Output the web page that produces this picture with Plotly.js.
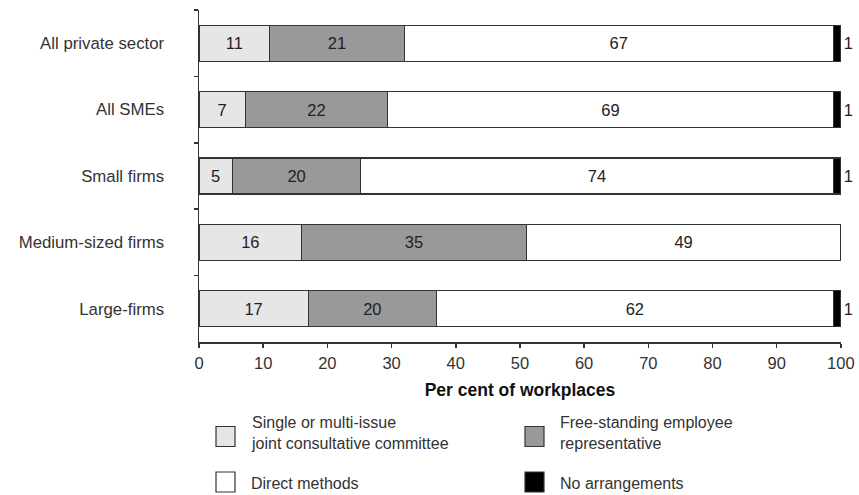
<!DOCTYPE html>
<html>
<head>
<meta charset="utf-8">
<script src="https://cdn.plot.ly/plotly-3.0.1.min.js"></script>
<style>html,body{margin:0;padding:0;background:#fff;}#chart{width:859px;height:495px;}</style>
</head>
<body>
<div id="chart"></div>
<script>
const categories = ["All private sector", "All SMEs", "Small firms", "Medium-sized firms", "Large-firms"];
const jointCommittee = [11, 7.2, 5.2, 16, 17];
const freeStanding = [21, 22.2, 20, 35, 20];
const directMethods = [66.8, 69.4, 73.6, 49, 61.8];
const noArrangements = [1.2, 1.2, 1.2, 0, 1.2];
const seriesNames = ["Single or multi-issue<br>joint consultative committee", "Free-standing employee<br>representative", "Direct methods", "No arrangements"];
const seriesColors = ["#e6e6e6", "#999999", "#ffffff", "#000000"];
const xTickValues = [0, 10, 20, 30, 40, 50, 60, 70, 80, 90, 100];

const FONT = "Liberation Sans, Arial, Helvetica, sans-serif";
const lineCol = "#333333";

// plot area geometry (pixels)
const M = {l: 199, r: 18, t: 10, b: 153};
const W = 859, H = 495;
const PW = W - M.l - M.r, PH = H - M.t - M.b;
const px2x = p => (p - M.l) / PW;
const px2y = p => (H - M.b - p) / PH;

function labels(vals) { return vals.map(v => v > 0 ? String(Math.round(v)) : ""); }

function barTrace(vals, i, pos) {
  return {
    type: "bar", orientation: "h", y: categories, x: vals, name: seriesNames[i],
    marker: {color: seriesColors[i], line: {color: lineCol, width: 1.2}},
    text: labels(vals), textposition: pos, insidetextanchor: "middle",
    textangle: 0, constraintext: "none", cliponaxis: false,
    textfont: {family: FONT, size: 16.5, color: "#222"},
    hoverinfo: "x+y", showlegend: false
  };
}

const data = [
  barTrace(jointCommittee, 0, "inside"),
  barTrace(freeStanding, 1, "inside"),
  barTrace(directMethods, 2, "inside"),
  barTrace(noArrangements, 3, "outside")
];

// manual legend (2 x 2 grid)
const legCols = [216, 525];
const legRows = [436.5, 482];
const shapes = [], annotations = [];
seriesNames.forEach((name, i) => {
  const cx = legCols[i % 2], cy = legRows[Math.floor(i / 2)];
  const textOffset = name.indexOf("<br>") >= 0 ? -4 : 1;
  shapes.push({
    type: "rect", xref: "paper", yref: "paper",
    x0: px2x(cx), x1: px2x(cx + 19), y0: px2y(cy - 10), y1: px2y(cy + 10),
    fillcolor: seriesColors[i], line: {color: lineCol, width: 1.2}
  });
  annotations.push({
    xref: "paper", yref: "paper", x: px2x(cx + 33), y: px2y(cy + textOffset),
    xanchor: "left", yanchor: "middle", align: "left", showarrow: false,
    text: name, font: {family: FONT, size: 16, color: "#333"}
  });
});

const layout = {
  width: W, height: H,
  margin: M,
  paper_bgcolor: "#fff", plot_bgcolor: "#fff",
  font: {family: FONT, size: 16, color: "#333"},
  barmode: "stack", bargap: 0.46,
  xaxis: {
    range: [0, 100.02], tickvals: xTickValues, ticktext: xTickValues.map(String),
    showgrid: false, zeroline: false, showline: true, linecolor: lineCol, linewidth: 1.5,
    ticks: "outside", ticklen: 4, tickcolor: lineCol, tickwidth: 1.5,
    ticklabelstandoff: 2,
    tickfont: {family: FONT, size: 16.5, color: "#333"},
    title: {text: "<b>Per cent of workplaces</b>", font: {family: FONT, size: 17.5, color: "#111"}, standoff: 12}
  },
  yaxis: {
    type: "category", range: [4.5, -0.5], tickson: "boundaries",
    showgrid: false, zeroline: false, showline: true, linecolor: lineCol, linewidth: 1.5,
    ticks: "outside", ticklen: 4, tickcolor: lineCol, tickwidth: 1.5,
    ticklabelstandoff: 30,
    tickfont: {family: FONT, size: 16.8, color: "#333"}
  },
  showlegend: false,
  shapes: shapes,
  annotations: annotations
};

Plotly.newPlot("chart", data, layout, {displayModeBar: false, staticPlot: true});
</script>
</body>
</html>
